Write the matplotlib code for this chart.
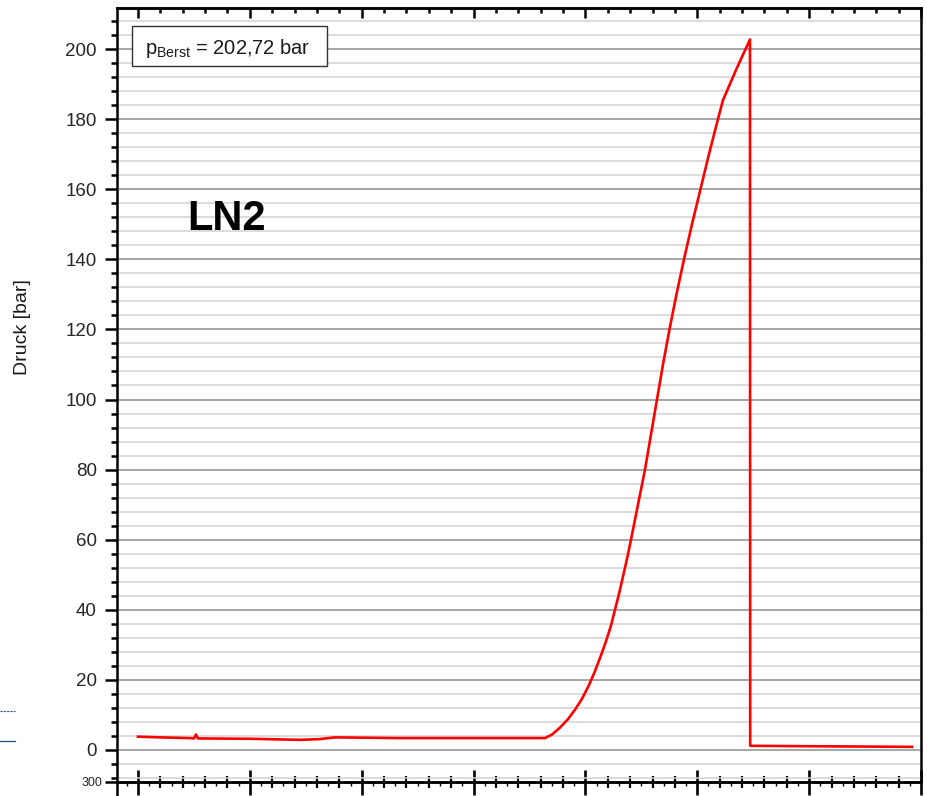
import matplotlib
matplotlib.use("Agg")
import matplotlib.pyplot as plt
from matplotlib.ticker import MultipleLocator, FixedLocator, NullFormatter
from matplotlib.lines import Line2D
from matplotlib.patches import Rectangle

# ---- data ----
time = [0, 20, 46, 50, 51.8, 53.6, 100, 145, 162, 176, 234, 296, 363.85,
        370.11, 377.26, 384.41, 390.67, 396.92, 403.18, 408.55, 413.91, 418.38,
        422.85, 426.42, 430.0, 433.58, 437.15, 440.73, 446.99, 453.25, 458.61,
        463.97, 469.34, 475.15, 481.41, 488.11, 495.26, 502.86, 510.46, 518.5,
        522.97, 534.6, 547.11, 547.3, 591, 692]
pressure = [3.8, 3.6, 3.4, 3.3, 4.4, 3.3, 3.2, 2.9, 3.1, 3.6, 3.4, 3.4, 3.4,
            4.4, 6.4, 8.8, 11.5, 14.6, 18.5, 22.5, 27.0, 31.0,
            35.5, 40.0, 44.5, 49.5, 54.5, 60.0, 70.0, 80.0, 90.0,
            100.0, 110.0, 120.0, 130.0, 140.0, 150.0, 160.0, 170.0, 180.0,
            185.4, 194.0, 202.72, 1.2, 1.1, 0.9]
y_ticks = [0, 20, 40, 60, 80, 100, 120, 140, 160, 180, 200]
y_label = "Druck [bar]"
box_text = r"p$_{\mathrm{Berst}}$ = 202,72 bar"
series_label = "LN2"
lower_tick = [300]

plt.rcParams['font.family'] = ['Liberation Sans', 'DejaVu Sans']
plt.rcParams['mathtext.fontset'] = 'custom'
plt.rcParams['mathtext.rm'] = 'Liberation Sans'
plt.rcParams['mathtext.it'] = 'Liberation Sans:italic'

W, H = 928, 796
fig = plt.figure(figsize=(W / 100, H / 100), dpi=100)

L, R, T, B = 117, 921, 8, 782
ax = fig.add_axes([L / W, 1 - B / H, (R - L) / W, (B - T) / H])
ax.set_xlim(-18.75, 700)
ax.set_ylim(-9.13, 211.7)

ax.plot(time, pressure, color='#ff0000', lw=1.9, solid_joinstyle='round', zorder=5)

# y axis
ax.yaxis.set_major_locator(FixedLocator(y_ticks))
ax.yaxis.set_minor_locator(MultipleLocator(4))
ax.grid(True, axis='y', which='major', color='#8e8e8e', lw=1.1)
ax.grid(True, axis='y', which='minor', color='#d2d2d2', lw=1.1)
ax.set_axisbelow(True)
ax.tick_params(axis='y', which='major', direction='out', length=8.6, width=1.8,
               labelsize=13.5, labelcolor='#262626', pad=6, right=False)
ax.tick_params(axis='y', which='minor', direction='out', length=4.3, width=1.8, right=False)
ax.set_ylabel(y_label, fontsize=14, color='#1a1a1a')
ax.yaxis.set_label_coords(-0.107, 0.588)

# x axis (bottom)
ax.xaxis.set_major_locator(MultipleLocator(100))
ax.xaxis.set_minor_locator(MultipleLocator(20))
ax.xaxis.set_major_formatter(NullFormatter())
ax.tick_params(axis='x', which='major', direction='inout', length=18, width=1.9, top=False)
ax.tick_params(axis='x', which='minor', direction='inout', length=8.6, width=1.6, top=False)

tiny = ax.secondary_xaxis('bottom')
tiny.xaxis.set_major_locator(FixedLocator([v for v in range(-10, 701, 20)]))
tiny.xaxis.set_major_formatter(NullFormatter())
tiny.tick_params(axis='x', direction='out', length=3, width=1.0)
tiny.spines['bottom'].set_linewidth(1.8)

top = ax.secondary_xaxis('top')
top.xaxis.set_major_locator(MultipleLocator(100))
top.xaxis.set_minor_locator(MultipleLocator(20))
top.xaxis.set_major_formatter(NullFormatter())
top.tick_params(axis='x', which='major', direction='in', length=7, width=1.8)
top.tick_params(axis='x', which='minor', direction='in', length=3.8, width=1.8)
top.spines['top'].set_linewidth(1.8)

for s in ax.spines.values():
    s.set_linewidth(1.8)
    s.set_color('black')

# annotation box
ax.add_patch(Rectangle((0.0187, 0.925), 0.2425, 0.052, transform=ax.transAxes,
                       facecolor='white', edgecolor='#333333', lw=1.0, zorder=6))
ax.text(0.1374, 0.948, box_text, transform=ax.transAxes, ha='center', va='center',
        fontsize=14.5, color='#1a1a1a', zorder=7)

ax.text(0.1356, 0.728, series_label, transform=ax.transAxes, ha='center', va='center',
        fontsize=30, fontweight='bold', color='black', zorder=7)

# lower panel (partially visible)
ax2 = fig.add_axes([L / W, 1 - 1100 / H, (R - L) / W, (1100 - B) / H])
ax2.set_facecolor('none')
ax2.set_ylim(0, 300)
ax2.set_yticks(lower_tick)
ax2.set_xticks([])
for k in ('top', 'right', 'bottom'):
    ax2.spines[k].set_visible(False)
ax2.spines['left'].set_linewidth(1.8)
ax2.tick_params(axis='y', direction='out', length=8.6, width=1.8, labelsize=9,
                labelcolor='#262626', pad=2)

# page artefacts at the left edge
fig.add_artist(Line2D([0, 15 / W], [1 - 711 / H, 1 - 711 / H], color='#2a4a80',
                      lw=0.8, ls=(0, (2, 1))))
fig.add_artist(Line2D([0, 15 / W], [1 - 741 / H, 1 - 741 / H], color='#2a4a80', lw=0.9))

fig.savefig('out.png', dpi=100)
